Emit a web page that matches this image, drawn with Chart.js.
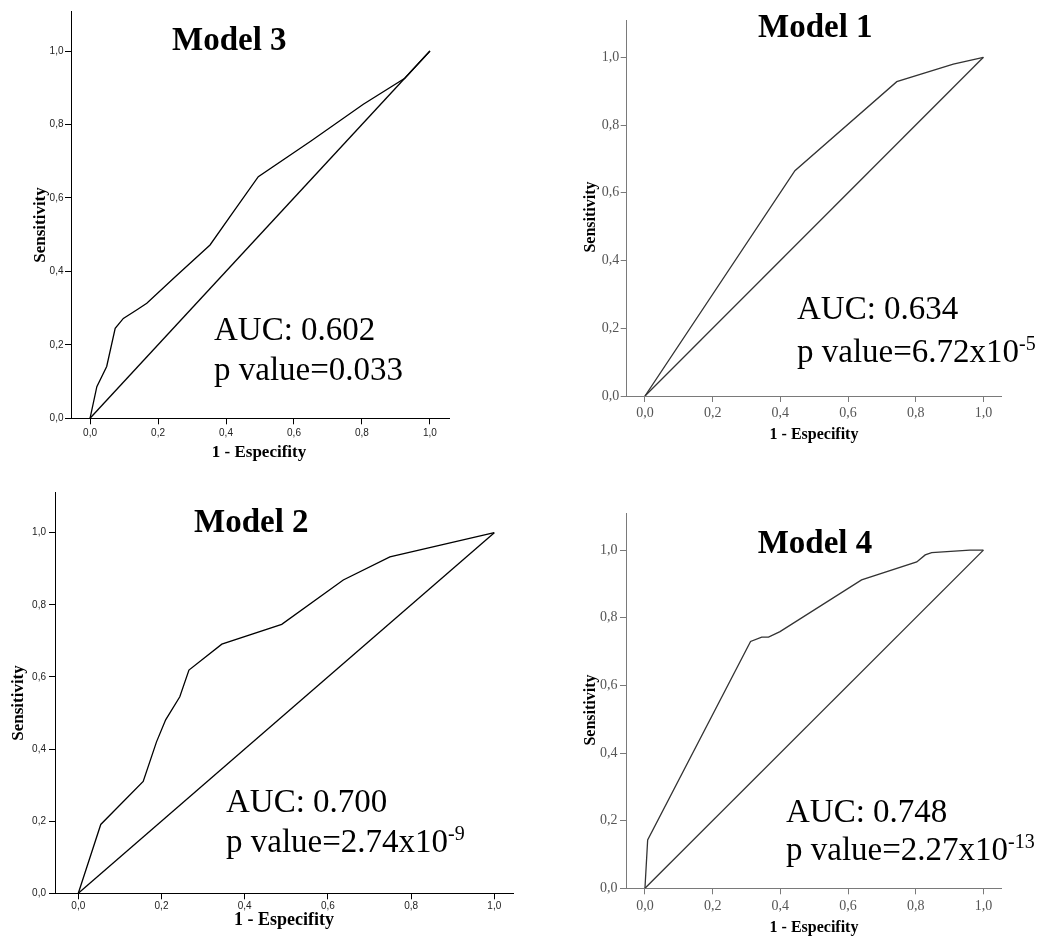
<!DOCTYPE html>
<html><head><meta charset="utf-8">
<script src="https://cdn.jsdelivr.net/npm/chart.js@4.4.1/dist/chart.umd.min.js"></script>
<style>
html,body{margin:0;padding:0;background:#fff;}
#wrap{position:relative;width:1048px;height:938px;overflow:hidden;background:#fff;}
canvas{position:absolute;}
</style></head><body>
<div id="wrap">
<canvas id="c1" width="524" height="469" style="left:0;top:0;width:524px;height:469px"></canvas>
<canvas id="c2" width="524" height="469" style="left:524px;top:0;width:524px;height:469px"></canvas>
<canvas id="c3" width="524" height="469" style="left:0;top:469px;width:524px;height:469px"></canvas>
<canvas id="c4" width="524" height="469" style="left:524px;top:469px;width:524px;height:469px"></canvas>
</div>
<script>
// ---------- data ----------
const tickValues = [0, 0.2, 0.4, 0.6, 0.8, 1.0];
const tickLabels = ['0,0', '0,2', '0,4', '0,6', '0,8', '1,0'];
const xAxisTitle = '1 - Especifity';
const yAxisTitle = 'Sensitivity';
const modelNames = ['Model 3', 'Model 1', 'Model 2', 'Model 4'];
const aucLabels = ['AUC: 0.602', 'AUC: 0.634', 'AUC: 0.700', 'AUC: 0.748'];
const pLabels = ['p value=0.033', 'p value=6.72x10', 'p value=2.74x10', 'p value=2.27x10'];
const pExponents = ['', '-5', '-9', '-13'];

const refFPR = [0, 1];
const refTPR = [0, 1];

const model3FPR = [0, 0.020, 0.049, 0.074, 0.098, 0.137, 0.167, 0.250, 0.353, 0.420, 0.495, 0.650, 0.804, 0.926, 1];
const model3TPR = [0, 0.086, 0.141, 0.245, 0.272, 0.295, 0.313, 0.385, 0.472, 0.560, 0.658, 0.755, 0.855, 0.926, 1];

const model1FPR = [0, 0.443, 0.744, 0.911, 1];
const model1TPR = [0, 0.665, 0.928, 0.980, 1];

const model2FPR = [0, 0.054, 0.156, 0.188, 0.210, 0.244, 0.266, 0.345, 0.489, 0.637, 0.749, 1];
const model2TPR = [0, 0.191, 0.310, 0.420, 0.481, 0.545, 0.619, 0.691, 0.746, 0.869, 0.933, 1];

const model4FPR = [0, 0.008, 0.312, 0.345, 0.365, 0.399, 0.640, 0.803, 0.828, 0.847, 0.960, 1];
const model4TPR = [0, 0.143, 0.730, 0.743, 0.743, 0.759, 0.912, 0.965, 0.986, 0.993, 1.000, 1];

// ---------- layout / styles ----------
const styles = {
  sans: { tickFont: { family: '"Liberation Sans", Arial, sans-serif', size: 10 }, tickColor: '#222', axisColor: '#000', lineColor: '#000' },
  serif: { tickFont: { family: '"Liberation Serif", "Times New Roman", serif', size: 14 }, tickColor: '#555', axisColor: '#7a7a7a', lineColor: '#333' }
};

const panels = [
  { id: 'c1', ox: 0, oy: 0, w: 524, h: 469, plot: { l: 71, t: 11, r: 449, b: 418.3 }, xr: [-0.056, 1.056], yr: [0, 1.109],
    style: 'sans', fpr: model3FPR, tpr: model3TPR, k: 0, padX: 2.7, padY: 1.5,
    title: { x: 172, y: 49.5 }, auc: { x: 214, y1: 340, y2: 380 }, yt: { x: 40.7, y: 225, size: 17 }, xt: { x: 259, y: 457, size: 17 } },
  { id: 'c2', ox: 524, oy: 0, w: 524, h: 469, plot: { l: 626.7, t: 20.7, r: 1001.7, b: 396 }, xr: [-0.054, 1.054], yr: [0, 1.108],
    style: 'serif', fpr: model1FPR, tpr: model1TPR, k: 1, padX: 2.6, padY: 1.5,
    title: { x: 758, y: 37.3 }, auc: { x: 797, y1: 319.3, y2: 361.7 }, yt: { x: 590.7, y: 217, size: 16 }, xt: { x: 814, y: 439, size: 16 } },
  { id: 'c3', ox: 0, oy: 469, w: 524, h: 469, plot: { l: 55, t: 492.7, r: 513.3, b: 893.3 }, xr: [-0.056, 1.0457], yr: [0, 1.111],
    style: 'sans', fpr: model2FPR, tpr: model2TPR, k: 2, padX: 1.2, padY: 3,
    title: { x: 194, y: 531.7 }, auc: { x: 226, y1: 811.7, y2: 851.7 }, yt: { x: 18.3, y: 703, size: 17 }, xt: { x: 284, y: 925, size: 18 } },
  { id: 'c4', ox: 524, oy: 469, w: 524, h: 469, plot: { l: 626, t: 513.3, r: 1001.7, b: 888.3 }, xr: [-0.056, 1.054], yr: [0, 1.109],
    style: 'serif', fpr: model4FPR, tpr: model4TPR, k: 3, padX: 3.3, padY: 2.5,
    title: { x: 757.7, y: 552.7 }, auc: { x: 786, y1: 821.7, y2: 860 }, yt: { x: 590.7, y: 710, size: 16 }, xt: { x: 814, y: 932, size: 16 } }
];

const SERIF = '"Liberation Serif", "Times New Roman", serif';

const panelText = {
  id: 'panelText',
  afterDraw(chart, args, o) {
    const p = o.panel;
    const ctx = chart.ctx;
    ctx.save();
    ctx.fillStyle = '#000';
    // model title
    ctx.font = 'bold 33px ' + SERIF;
    ctx.textAlign = 'left';
    ctx.textBaseline = 'alphabetic';
    ctx.fillText(modelNames[p.k], p.title.x - p.ox, p.title.y - p.oy);
    // AUC and p value
    ctx.font = '33px ' + SERIF;
    ctx.fillText(aucLabels[p.k], p.auc.x - p.ox, p.auc.y1 - p.oy);
    ctx.fillText(pLabels[p.k], p.auc.x - p.ox, p.auc.y2 - p.oy);
    if (pExponents[p.k]) {
      const wMain = ctx.measureText(pLabels[p.k]).width;
      ctx.font = '20px ' + SERIF;
      ctx.fillText(pExponents[p.k], p.auc.x - p.ox + wMain, p.auc.y2 - p.oy - 12);
    }
    // axis titles
    ctx.font = 'bold ' + p.xt.size + 'px ' + SERIF;
    ctx.textAlign = 'center';
    ctx.fillText(xAxisTitle, p.xt.x - p.ox, p.xt.y - p.oy);
    ctx.font = 'bold ' + p.yt.size + 'px ' + SERIF;
    ctx.translate(p.yt.x - p.ox, p.yt.y - p.oy);
    ctx.rotate(-Math.PI / 2);
    ctx.textBaseline = 'middle';
    ctx.fillText(yAxisTitle, 0, 0);
    ctx.restore();
  }
};

function makeChart(p) {
  const st = styles[p.style];
  const pts = p.fpr.map((x, i) => ({ x: x, y: p.tpr[i] }));
  const ref = refFPR.map((x, i) => ({ x: x, y: refTPR[i] }));
  const axisCommon = (isX) => ({
    type: 'linear',
    min: isX ? p.xr[0] : p.yr[0],
    max: isX ? p.xr[1] : p.yr[1],
    afterBuildTicks: (s) => { s.ticks = tickValues.map(v => ({ value: v })); },
    afterFit: (s) => {
      if (isX) s.height = p.oy + p.h - p.plot.b;
      else s.width = p.plot.l - p.ox;
    },
    ticks: {
      autoSkip: false, maxRotation: 0, minRotation: 0,
      font: st.tickFont, color: st.tickColor,
      padding: isX ? p.padX : p.padY,
      callback: (v, i) => tickLabels[i]
    },
    grid: { display: true, drawOnChartArea: false, drawTicks: true, tickLength: 6, color: st.axisColor, lineWidth: 1 },
    border: { display: true, color: st.axisColor, width: 1 },
    title: { display: false }
  });
  return new Chart(document.getElementById(p.id), {
    type: 'scatter',
    data: {
      datasets: [
        { label: 'Reference', data: ref, showLine: true, borderColor: st.lineColor, borderWidth: 1.3, pointRadius: 0, tension: 0, fill: false },
        { label: modelNames[p.k], data: pts, showLine: true, borderColor: st.lineColor, borderWidth: 1.3, pointRadius: 0, tension: 0, fill: false }
      ]
    },
    options: {
      responsive: false,
      animation: false,
      devicePixelRatio: 1,
      layout: { padding: { left: 0, top: p.plot.t - p.oy, right: p.ox + p.w - p.plot.r, bottom: 0 } },
      plugins: { legend: { display: false }, tooltip: { enabled: false }, title: { display: false }, panelText: { panel: p } },
      scales: { x: axisCommon(true), y: axisCommon(false) }
    },
    plugins: [panelText]
  });
}

panels.forEach(makeChart);
</script>
</body></html>
